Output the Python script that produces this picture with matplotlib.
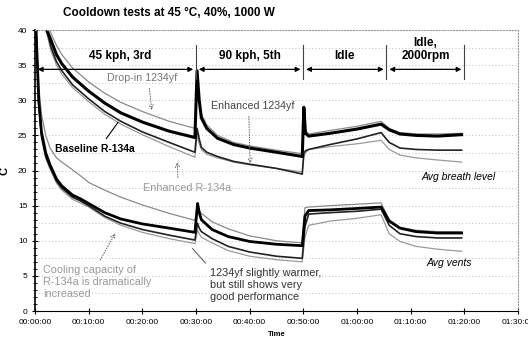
import numpy as np
import matplotlib
matplotlib.use("Agg")
import matplotlib.pyplot as plt
from matplotlib.ticker import MultipleLocator, FuncFormatter

plt.rcParams["font.family"] = ["Liberation Sans", "DejaVu Sans"]

# --- breath level curves (minutes, deg C) ---
breath_t = [1.5, 2.2, 3, 4, 5, 7, 10, 13, 16, 20, 25, 29.8, 30.2, 30.6, 31, 32, 34, 37, 40, 45, 49.8,
            50.1, 50.4, 51, 55, 60, 64.5, 66, 68, 71, 75, 79.5]
baseline_breath = [42, 40, 38.5, 36.5, 35.2, 33.3, 31.3, 29.6, 28.2, 26.9, 25.6, 24.7, 34.2, 30, 27.5, 26, 24.6,
                   23.7, 23.2, 22.6, 22.0, 29, 25.3, 24.9, 25.3, 25.9, 26.6, 25.8, 25.2, 25.0, 24.9, 25.1]
dropin_breath = [43, 41.2, 39.5, 37.8, 36.5, 34.6, 32.6, 31.0, 29.7, 28.4, 27.0, 26.0, 33, 30, 28, 26.5, 25,
                 24, 23.5, 22.9, 22.4, 27, 25.7, 25.2, 25.7, 26.3, 27.0, 26, 25.4, 25.2, 25.2, 25.3]
enh1234_breath = [41.5, 40, 37.5, 35.5, 34.2, 32.2, 30.2, 28.4, 27.0, 25.5, 24.0, 22.6, 26, 24.5, 23.3, 22.6,
                  22.0, 21.3, 20.9, 20.3, 19.5, 22.5, 22.8, 23.0, 23.7, 24.5, 25.4, 24.0, 23.2, 23.0, 22.9, 22.9]
enh134_breath = [41, 39.5, 37, 35, 33.7, 31.8, 29.8, 28.0, 26.6, 25.1, 23.4, 21.9, 25, 23.8, 23, 22.3, 21.8,
                 21.2, 20.8, 20.3, 19.8, 22, 22.5, 23.0, 23.4, 23.8, 24.3, 23.0, 22.2, 21.8, 21.5, 21.2]

# --- vent curves ---
vent_t = [0.2, 0.7, 1.2, 2, 2.8, 4, 5, 7, 8.4, 10, 13, 16, 20, 25, 29.8, 30.3, 30.6, 31, 33, 36, 40, 45, 49.8,
          50.3, 51, 55, 60, 64.5, 66, 68, 71, 75, 79.5]
baseline_vent = [40, 30, 25.5, 22.5, 20.8, 18.8, 17.8, 16.5, 16.0, 15.3, 14.0, 13.1, 12.4, 11.8, 11.2, 15.3,
                 14.0, 13.0, 11.6, 10.6, 9.9, 9.5, 9.3, 13.5, 14.3, 14.4, 14.6, 14.8, 12.8, 11.8, 11.3, 11.1, 11.1]
enh1234_vent = [40, 29.5, 25, 22, 20.5, 18.5, 17.5, 16.2, 15.7, 15.0, 13.5, 12.5, 11.6, 10.8, 10.1, 12.5,
                11.8, 11.3, 10.3, 9.2, 8.4, 7.8, 7.5, 12, 13.8, 14.0, 14.2, 14.5, 12.2, 11.0, 10.6, 10.4, 10.4]
enh134_vent = [40, 29, 24.5, 21.7, 20.2, 18.2, 17.2, 15.9, 15.4, 14.8, 13.3, 12.2, 11.2, 10.3, 9.6, 11.5, 11.0,
               10.5, 9.7, 8.6, 7.8, 7.3, 7.0, 10.5, 12.2, 12.8, 13.2, 13.7, 11.0, 9.9, 9.2, 8.8, 8.5]
dropin_vent = [40, 32, 28, 25, 23.2, 21.8, 21.2, 20.1, 19.3, 18.3, 17.2, 16.2, 15.1, 13.9, 12.9, 15.0, 14.4,
               13.9, 12.7, 11.7, 10.7, 10.0, 9.7, 14.7, 14.8, 15.0, 15.2, 15.4, 13.0, 11.9, 11.5, 11.3, 11.3]

phase_edges = [0, 30, 50, 65.5, 80]
phase_labels = ["45 kph, 3rd", "90 kph, 5th", "Idle", "Idle,\n2000rpm"]

fig = plt.figure(figsize=(5.28, 3.47), dpi=100)
ax = fig.add_axes([0.0663, 0.1037, 0.9147, 0.8098])

# dotted background grid
for g in np.arange(2.5, 40, 2.5):
    ax.axhline(g, ls=(0, (1, 3)), color="#a8a8a8", lw=0.6, zorder=0)

gray = "#8a8a8a"
ax.plot(breath_t, dropin_breath, color=gray, lw=0.9)
ax.plot(breath_t, enh134_breath, color="#9a9a9a", lw=0.9)
ax.plot(breath_t, enh1234_breath, color="#222222", lw=1.2)
ax.plot(breath_t, baseline_breath, color="black", lw=2.2)
ax.plot(vent_t, dropin_vent, color=gray, lw=0.9)
ax.plot(vent_t, enh134_vent, color="#9a9a9a", lw=0.9)
ax.plot(vent_t, enh1234_vent, color="#222222", lw=1.2)
ax.plot(vent_t, baseline_vent, color="black", lw=2.0)

ax.set_xlim(0, 90)
ax.set_ylim(0, 40)
ax.xaxis.set_major_locator(MultipleLocator(10))
ax.xaxis.set_major_formatter(FuncFormatter(lambda v, p: "%02d:%02d:00" % (int(v) // 60, int(v) % 60)))
ax.yaxis.set_major_locator(MultipleLocator(5))
ax.yaxis.set_minor_locator(MultipleLocator(1))
ax.tick_params(axis="both", labelsize=6, direction="inout", length=4, width=0.8)
ax.tick_params(axis="y", which="minor", direction="inout", length=3, width=0.6)
for s in ("top", "right"):
    ax.spines[s].set_linestyle(":")
    ax.spines[s].set_color("#999999")
ax.spines["left"].set_linewidth(1.2)
ax.spines["bottom"].set_linewidth(0.8)

# phase markers
for x in phase_edges[1:]:
    ax.plot([x, x], [33, 37.8], color="#444444", lw=0.8)
for i, lab in enumerate(phase_labels):
    a, b = phase_edges[i], phase_edges[i + 1]
    ax.annotate("", xy=(a, 34.4), xytext=(b, 34.4),
                arrowprops=dict(arrowstyle="<|-|>", color="black", lw=0.9, mutation_scale=7))
    ax.text((a + b) / 2 + (0.8 if i == 0 else 0), 35.4, lab, ha="center", va="bottom",
            fontsize=8.5, fontweight="bold", linespacing=1.1)

fig.text(0.119, 0.962, "Cooldown tests at 45 °C, 40%, 1000 W", fontsize=8.5, fontweight="bold",
         ha="left", va="center")
ax.set_ylabel("C", fontsize=8, fontweight="bold", labelpad=6)
ax.set_xlabel("Time", fontsize=5.5, fontweight="bold", labelpad=4)

arr = dict(arrowstyle="->", color="#666666", lw=0.7, ls=":")
ax.annotate("Drop-in 1234yf", xy=(21.8, 28.2), xytext=(19.9, 33.2), fontsize=7.7, color="#777777",
            ha="center", va="center", arrowprops=dict(arr, relpos=(0.6, 0)))
ax.annotate("Enhanced 1234yf", xy=(40.1, 20.6), xytext=(40.6, 29.2), fontsize=7.7, color="#444444",
            ha="center", va="center", arrowprops=dict(arr, relpos=(0.45, 0)))
ax.annotate("Baseline R-134a", xy=(15.8, 27.2), xytext=(11.1, 23.1), fontsize=7.5, fontweight="bold",
            ha="center", va="center",
            arrowprops=dict(arrowstyle="-", color="black", lw=0.8, relpos=(0.6, 1)))
ax.annotate("Enhanced R-134a", xy=(26.5, 21.6), xytext=(28.3, 17.5), fontsize=7.8, color="#999999",
            ha="center", va="center", arrowprops=dict(arr, relpos=(0.4, 1)))
ax.annotate("Cooling capacity of\nR-134a is dramatically\nincreased", xy=(15.2, 11.4), xytext=(1.5, 4.1),
            fontsize=7.8, color="#999999", ha="left", va="center", linespacing=1.25,
            arrowprops=dict(arr, relpos=(0.5, 1)))
ax.annotate("1234yf slightly warmer,\nbut still shows very\ngood performance", xy=(29.0, 9.2),
            xytext=(32.6, 3.7), fontsize=7.8, color="#333333", ha="left", va="center", linespacing=1.25,
            arrowprops=dict(arrowstyle="-", color="#555555", lw=0.7, relpos=(0, 1)))
ax.text(72.1, 19.1, "Avg breath level", fontsize=7.5, style="italic", ha="left", va="center")
ax.text(73.0, 6.8, "Avg vents", fontsize=7.5, style="italic", ha="left", va="center")

fig.savefig("out.png", dpi=100)
